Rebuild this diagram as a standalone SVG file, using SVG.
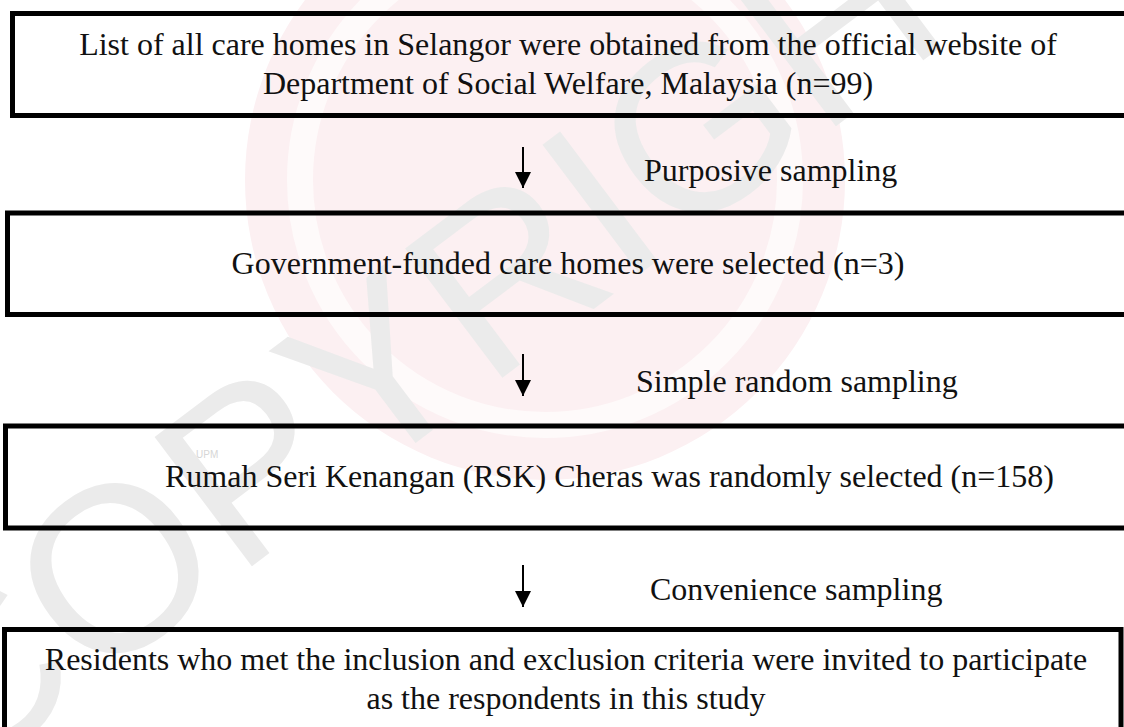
<svg xmlns="http://www.w3.org/2000/svg" width="1124" height="727" viewBox="0 0 1124 727">
<style>
.box{fill:none;stroke:#000;stroke-width:5}
.t{font-family:"Liberation Serif","Times New Roman",serif;font-size:32px;fill:#111}
.m{text-anchor:middle}
.edge{stroke:#000;stroke-width:2;fill:none}
.wm{font-family:"Liberation Sans",Arial,sans-serif;fill:#ebebeb}
</style>
<defs>
<marker id="ah" viewBox="0 0 16 16" refX="16" refY="8" markerWidth="16" markerHeight="16" markerUnits="userSpaceOnUse" orient="auto">
<path d="M0,0 L16,8 L0,16 Z" fill="#000"/>
</marker>
</defs>
<rect width="1124" height="727" fill="#fff"/>
<g id="watermark">
<circle cx="545" cy="180" r="300" fill="#fcf0f2"/>
<circle cx="545" cy="180" r="245" fill="none" stroke="#fefafa" stroke-width="26"/>
<text class="wm" font-size="235" transform="translate(-45 790) rotate(-37)">COPYRIGHT</text>
<text x="196" y="458" font-family="Liberation Sans,Arial,sans-serif" font-size="10" fill="#d6d6d6">UPM</text>
</g>
<g id="node1">
<rect class="box" x="12.5" y="13.5" width="1130" height="102"/>
<text class="t m" x="568" y="55">List of all care homes in Selangor were obtained from the official website of</text>
<text class="t m" x="568" y="94">Department of Social Welfare, Malaysia (n=99)</text>
</g>
<g id="node2">
<rect class="box" x="7.5" y="213" width="1130" height="101.5"/>
<text class="t m" x="568" y="274">Government-funded care homes were selected (n=3)</text>
</g>
<g id="node3">
<rect class="box" x="5.5" y="426" width="1130" height="102"/>
<text class="t" x="165" y="487">Rumah Seri Kenangan (RSK) Cheras was randomly selected (n=158)</text>
</g>
<g id="node4">
<rect class="box" x="4.5" y="629.5" width="1116.5" height="120"/>
<text class="t m" x="566" y="670">Residents who met the inclusion and exclusion criteria were invited to participate</text>
<text class="t m" x="566" y="709">as the respondents in this study</text>
</g>
<g id="connectors">
<line class="edge" x1="523" y1="147" x2="523" y2="188" marker-end="url(#ah)"/>
<line class="edge" x1="523" y1="354" x2="523" y2="396" marker-end="url(#ah)"/>
<line class="edge" x1="523" y1="565" x2="523" y2="607" marker-end="url(#ah)"/>
<text class="t" x="644" y="181">Purposive sampling</text>
<text class="t" x="636" y="392">Simple random sampling</text>
<text class="t" x="650" y="600">Convenience sampling</text>
</g>
</svg>
